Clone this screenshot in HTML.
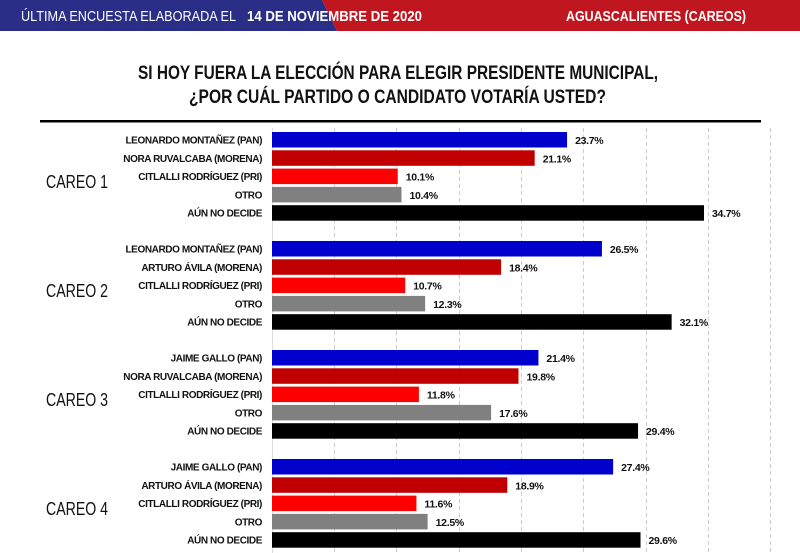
<!DOCTYPE html>
<html><head><meta charset="utf-8"><style>
body{margin:0;width:800px;height:553px;overflow:hidden;background:#fff}
svg{display:block}
text{font-family:"Liberation Sans",sans-serif}
.l{font-size:10px;font-weight:bold;text-anchor:end;fill:#111;letter-spacing:-0.4px}
.v{font-size:10.5px;font-weight:bold;fill:#111;letter-spacing:-0.3px}
.c{font-size:18px;fill:#111}
</style></head><body>
<svg width="800" height="553" viewBox="0 0 800 553">
<polygon points="0,0 322,0 337,31 0,31" fill="#2b2e86"/>
<polygon points="322,0 800,0 800,31 337,31" fill="#c0161f"/>
<text x="21" y="21" font-size="15" fill="#fff" textLength="215" lengthAdjust="spacingAndGlyphs">ÚLTIMA ENCUESTA ELABORADA EL</text>
<text x="247" y="21" font-size="15" fill="#fff" font-weight="bold" textLength="175" lengthAdjust="spacingAndGlyphs">14 DE NOVIEMBRE DE 2020</text>
<text x="566" y="21" font-size="15" fill="#fff" font-weight="bold" textLength="180" lengthAdjust="spacingAndGlyphs">AGUASCALIENTES (CAREOS)</text>
<text x="138" y="79" font-size="19" font-weight="bold" fill="#111" textLength="520" lengthAdjust="spacingAndGlyphs">SI HOY FUERA LA ELECCIÓN PARA ELEGIR PRESIDENTE MUNICIPAL,</text>
<text x="189" y="103" font-size="19" font-weight="bold" fill="#111" textLength="417" lengthAdjust="spacingAndGlyphs">¿POR CUÁL PARTIDO O CANDIDATO VOTARÍA USTED?</text>
<rect x="40" y="120" width="721" height="2.5" fill="#000"/>
<g stroke="#ccc" stroke-width="1" stroke-dasharray="4,3">
<line x1="334.5" y1="128" x2="334.5" y2="553"/><line x1="396.5" y1="128" x2="396.5" y2="553"/>
<line x1="459.5" y1="128" x2="459.5" y2="553"/><line x1="521.5" y1="128" x2="521.5" y2="553"/>
<line x1="583.5" y1="128" x2="583.5" y2="553"/><line x1="646.5" y1="128" x2="646.5" y2="553"/>
<line x1="708.5" y1="128" x2="708.5" y2="553"/><line x1="770.5" y1="128" x2="770.5" y2="553"/>
</g>
<line x1="272.5" y1="128" x2="272.5" y2="553" stroke="#ddd"/>
<g id="g"></g>
</svg>
<script>
var data=[
["CAREO 1",[["LEONARDO MONTAÑEZ (PAN)",23.7],["NORA RUVALCABA (MORENA)",21.1],["CITLALLI RODRÍGUEZ (PRI)",10.1],["OTRO",10.4],["AÚN NO DECIDE",34.7]]],
["CAREO 2",[["LEONARDO MONTAÑEZ (PAN)",26.5],["ARTURO ÁVILA (MORENA)",18.4],["CITLALLI RODRÍGUEZ (PRI)",10.7],["OTRO",12.3],["AÚN NO DECIDE",32.1]]],
["CAREO 3",[["JAIME GALLO (PAN)",21.4],["NORA RUVALCABA (MORENA)",19.8],["CITLALLI RODRÍGUEZ (PRI)",11.8],["OTRO",17.6],["AÚN NO DECIDE",29.4]]],
["CAREO 4",[["JAIME GALLO (PAN)",27.4],["ARTURO ÁVILA (MORENA)",18.9],["CITLALLI RODRÍGUEZ (PRI)",11.6],["OTRO",12.5],["AÚN NO DECIDE",29.6]]]];
var cols=["#0000cc","#c00000","#ff0000","#808080","#000000"];
var s="";
data.forEach(function(g,gi){
 var top=132+gi*109;
 s+='<text class="c" x="46" y="'+(top+56)+'" textLength="62" lengthAdjust="spacingAndGlyphs">'+g[0]+'</text>';
 g[1].forEach(function(r,ri){
  var y=top+ri*18.3, w=r[1]*12.45;
  s+='<rect x="272" y="'+y+'" width="'+w+'" height="15.5" fill="'+cols[ri]+'"/>';
  s+='<text class="l" x="262" y="'+(y+11.5)+'">'+r[0]+'</text>';
  s+='<text class="v" x="'+(272+w+8)+'" y="'+(y+12)+'">'+r[1].toFixed(1)+'%</text>';
 });
});
document.getElementById("g").innerHTML=s;
</script>
</body></html>
